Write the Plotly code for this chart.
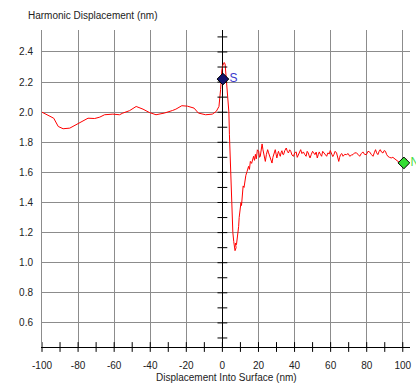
import plotly.graph_objects as go

# ---- data ----
approach_x = [-100, -93.5, -91, -88.3, -84.6, -80, -75.3, -74.5, -70.8, -68, -65.3, -60.7, -57,
              -55.2, -51.5, -47.8, -44, -40.5, -36.8, -32.2, -27.7, -25.8, -22.5, -19.4, -15.7,
              -13.3, -9.3, -5.6, -3.4, -1.9]
approach_y = [2.0, 1.96, 1.905, 1.89, 1.894, 1.923, 1.95, 1.96, 1.958, 1.967, 1.983, 1.987, 1.983,
              1.994, 2.01, 2.038, 2.02, 1.998, 1.983, 1.994, 2.011, 2.02, 2.043, 2.04, 2.027,
              1.994, 1.983, 1.987, 2.005, 2.038]

contact_x = [-1.0, -0.6, -0.3, 0.2, 1.0, 1.5, 2.0, 2.6, 3.2, 3.6, 3.9, 4.2, 4.5, 4.8, 5.1, 5.4,
             5.8, 6.3, 6.8, 7.0, 7.6, 7.2, 7.8, 8.2, 8.5, 9.0, 9.3, 9.8, 10.3, 10.6, 11.0, 11.5,
             12.0, 12.5, 13.0]
contact_y = [2.15, 2.24, 2.28, 2.31, 2.33, 2.32, 2.25, 2.18, 2.10, 2.0, 1.85, 1.72, 1.60, 1.48,
             1.38, 1.28, 1.20, 1.14, 1.10, 1.08, 1.10, 1.13, 1.12, 1.15, 1.20, 1.24, 1.30, 1.34,
             1.40, 1.38, 1.46, 1.51, 1.50, 1.56, 1.58]

plateau_x = [13.7, 14.5, 15.0, 15.5, 16.2, 16.8, 17.3, 17.8, 18.3, 18.8, 19.4, 20.1, 20.6, 21.0,
             21.5, 22.0, 22.5, 22.9, 23.4, 23.8, 24.4, 25.1, 25.6, 26.2, 26.8, 27.5, 28.0, 28.4,
             28.9, 29.3, 29.8, 30.2, 30.7, 31.1, 31.6, 32.1, 32.5, 33.0, 33.5, 33.9, 34.6, 35.4,
             36.0, 36.6, 37.3, 37.9, 38.6, 39.4, 40.1, 40.9, 41.5, 42.1, 42.8, 43.4, 44.1, 44.9,
             45.6, 46.4, 47.0, 47.6, 48.1, 48.6, 49.3, 50.0, 50.6, 51.3, 52.0, 52.6, 53.2, 53.7,
             54.3, 55.0, 55.6, 56.3, 57.0, 57.8, 58.5, 59.2, 59.8, 60.5, 61.2, 61.8, 62.5, 63.3,
             63.9, 64.5, 65.0, 65.5, 66.2, 66.9, 67.8, 68.8, 69.7, 70.6, 71.5, 72.4, 73.3, 74.3,
             75.2, 76.1, 77.0, 77.9, 78.8, 79.8, 80.7, 81.6, 82.5, 83.5, 84.2, 84.9, 85.5, 86.2,
             86.9, 87.5, 88.2, 89.0, 89.7, 90.4, 91.0, 91.7, 92.6, 93.6, 94.5, 95.4, 96.3, 97.2,
             98.2, 99.1, 100.0, 100.9, 101.5, 102.2]
plateau_y = [1.607, 1.64, 1.62, 1.673, 1.66, 1.70, 1.707, 1.68, 1.72, 1.69, 1.75, 1.74, 1.70, 1.707,
             1.76, 1.789, 1.75, 1.729, 1.70, 1.673, 1.72, 1.751, 1.73, 1.707, 1.69, 1.662, 1.70,
             1.718, 1.74, 1.751, 1.72, 1.696, 1.725, 1.74, 1.72, 1.707, 1.73, 1.744, 1.72, 1.718,
             1.745, 1.762, 1.74, 1.729, 1.75, 1.74, 1.715, 1.707, 1.73, 1.736, 1.70, 1.718, 1.74,
             1.751, 1.725, 1.736, 1.72, 1.707, 1.74, 1.729, 1.71, 1.696, 1.72, 1.74, 1.73, 1.718,
             1.735, 1.696, 1.72, 1.736, 1.72, 1.707, 1.74, 1.729, 1.715, 1.707, 1.73, 1.722, 1.745,
             1.729, 1.705, 1.718, 1.74, 1.729, 1.70, 1.673, 1.70, 1.718, 1.725, 1.707, 1.72, 1.718,
             1.725, 1.707, 1.715, 1.718, 1.73, 1.729, 1.72, 1.707, 1.725, 1.736, 1.72, 1.718, 1.74,
             1.736, 1.72, 1.707, 1.73, 1.751, 1.73, 1.718, 1.74, 1.751, 1.735, 1.729, 1.745, 1.74,
             1.72, 1.707, 1.70, 1.696, 1.70, 1.69, 1.68, 1.673, 1.665, 1.656, 1.662, 1.673, 1.68,
             1.69]

curve_x = approach_x + contact_x + plateau_x
curve_y = approach_y + contact_y + plateau_y

surface_x, surface_y, surface_label = [0.3], [2.22], ["S"]
end_x, end_y, end_label = [100.6], [1.663], ["N"]

x_ticks = [-100, -80, -60, -40, -20, 0, 20, 40, 60, 80, 100]
x_minor = [-100, -90, -80, -70, -60, -50, -40, -30, -20, -10, 0, 10, 20, 30, 40, 50, 60, 70, 80, 90, 100]
y_ticks = [0.6, 0.8, 1.0, 1.2, 1.4, 1.6, 1.8, 2.0, 2.2, 2.4]
y_minor = [0.5, 0.6, 0.7, 0.8, 0.9, 1.0, 1.1, 1.2, 1.3, 1.4, 1.5, 1.6, 1.7, 1.8, 1.9, 2.0,
           2.1, 2.2, 2.3, 2.4, 2.5]

x_range = [-100, 104]
y_range = [0.44, 2.546]

FONT = "Liberation Sans, Arial, sans-serif"
GRID = "#8c8c8c"

fig = go.Figure()

fig.add_trace(go.Scatter(x=curve_x, y=curve_y, mode="lines",
                         line=dict(color="#ff0000", width=1), showlegend=False,
                         hoverinfo="skip"))

# crossing ticks on the vertical axis at x = 0
fig.add_trace(go.Scatter(x=[0] * len(y_minor), y=y_minor, mode="markers",
                         marker=dict(symbol="line-ew", size=7,
                                     line=dict(color="#000000", width=1)),
                         showlegend=False, hoverinfo="skip", cliponaxis=False))
# crossing ticks on the bottom axis
fig.add_trace(go.Scatter(x=x_minor, y=[y_range[0]] * len(x_minor), mode="markers",
                         marker=dict(symbol="line-ns", size=7,
                                     line=dict(color="#000000", width=1)),
                         showlegend=False, hoverinfo="skip", cliponaxis=False))

fig.add_trace(go.Scatter(x=surface_x, y=surface_y, mode="markers+text", text=surface_label,
                         textposition="middle right",
                         textfont=dict(family=FONT, size=12, color="#3a3acc"),
                         marker=dict(symbol="diamond", size=9, color="#14146e",
                                     line=dict(color="#000000", width=1)),
                         showlegend=False, hoverinfo="skip", cliponaxis=False))
fig.add_trace(go.Scatter(x=end_x, y=end_y, mode="markers+text", text=end_label,
                         textposition="middle right",
                         textfont=dict(family=FONT, size=12, color="#44dd44"),
                         marker=dict(symbol="diamond", size=9, color="#33dd33",
                                     line=dict(color="#000000", width=1)),
                         showlegend=False, hoverinfo="skip", cliponaxis=False))

fig.update_layout(
    width=416, height=383,
    margin=dict(l=42, r=4, t=30, b=36),
    paper_bgcolor="white", plot_bgcolor="white",
    font=dict(family=FONT, size=10, color="#222222"),
    xaxis=dict(range=x_range, tickvals=x_ticks, ticktext=[str(v) for v in x_ticks],
               showgrid=True, gridcolor=GRID, gridwidth=1,
               zeroline=True, zerolinecolor="#000000", zerolinewidth=1,
               showline=True, linecolor="#000000", linewidth=1,
               ticks="", ticklabelstandoff=9, fixedrange=True),
    yaxis=dict(range=y_range, tickvals=y_ticks, ticktext=["%.1f" % v for v in y_ticks],
               showgrid=True, gridcolor=GRID, gridwidth=1, zeroline=False,
               showline=True, linecolor=GRID, linewidth=1,
               ticks="", ticklabelstandoff=6, fixedrange=True),
    annotations=[
        dict(text="Harmonic Displacement (nm)", xref="paper", yref="paper",
             x=-0.043, y=1.047, xanchor="left", yanchor="middle", showarrow=False,
             font=dict(family=FONT, size=10, color="#222222")),
        dict(text="Displacement Into Surface (nm)", xref="paper", yref="paper",
             x=0.5, y=-0.095, xanchor="center", yanchor="middle", showarrow=False,
             font=dict(family=FONT, size=10, color="#222222")),
    ],
)

fig.write_html("out.html",
               config={"displayModeBar": False, "staticPlot": True},
               post_script="document.body.style.margin='0';document.body.style.overflow='hidden';")
